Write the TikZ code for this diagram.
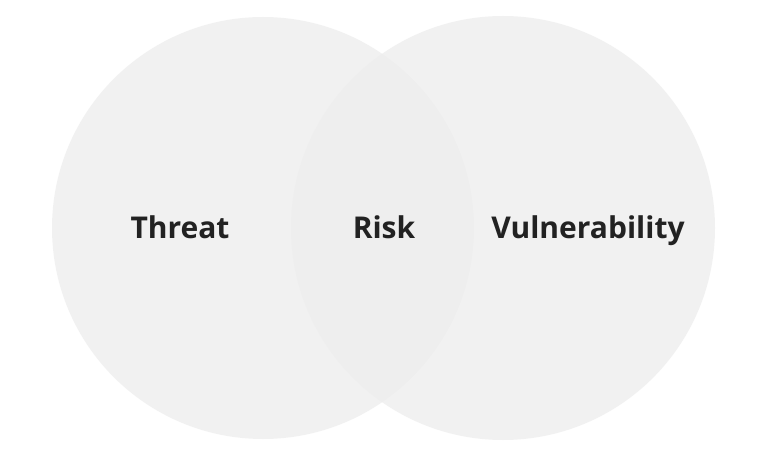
\documentclass[tikz,border=0pt]{standalone}
\usepackage{fontspec}
\setmainfont{Open Sans}
\definecolor{ringgray}{HTML}{EDEDED}
\definecolor{labelink}{HTML}{222222}
\tikzset{
  ring/.style={fill=ringgray, fill opacity=0.75, draw=none},
  word/.style={text=labelink, anchor=base, font=\fontsize{30}{36}\selectfont\bfseries}
}
\begin{document}
\begin{tikzpicture}[x=1pt,y=1pt]
	\useasboundingbox[fill=white] (0, 0) rectangle (776, 458);
	\node[ring, circle, minimum size=422pt]	(threatring)	at (263, 230)	{};
	\node[ring, circle, minimum size=424pt]	(vulnring)	at (503, 230)	{};
	\node[word]	(threat)	at (180, 219)	{Threat};
	\node[word]	(risk)	at (384, 219)	{Risk};
	\node[word]	(vuln)	at (588, 219)	{Vulnerability};
\end{tikzpicture}
\end{document}
